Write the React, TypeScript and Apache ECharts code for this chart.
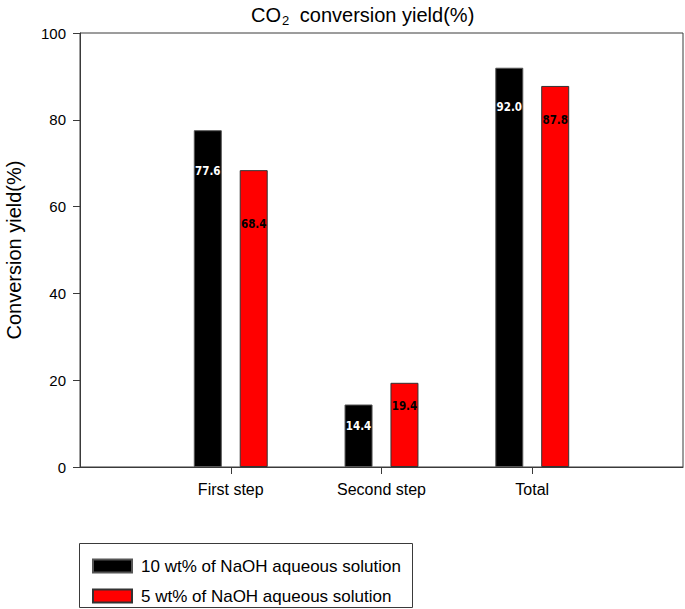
import React, { useEffect, useRef } from "react";
import * as echarts from "echarts";

const categories = ["", "First step", "Second step", "Total", ""];
const seriesNames = ["10 wt% of NaOH aqueous solution", "5 wt% of NaOH aqueous solution"];
const naoh10 = [null, 77.6, 14.4, 92.0, null];
const naoh5 = [null, 68.4, 19.4, 87.8, null];
const yTicks = [0, 20, 40, 60, 80, 100];

// label drop below bar top (styling only)
const drop10 = [0, 35, 15, 33, 0];
const drop5 = [0, 48, 17, 28, 0];

const FONT = "'Liberation Sans', Arial, sans-serif";
const LABEL_FONT = "'DejaVu Sans Condensed', 'DejaVu Sans', Verdana, sans-serif";
const AXIS = "#3a3a3a";

export default function App() {
  const ref = useRef<HTMLDivElement>(null);
  useEffect(() => {
    if (!ref.current) return;
    const chart = echarts.init(ref.current, null, { renderer: "svg" });
    const mk = (vals: (number | null)[], drops: number[]) =>
      vals.map((v, i) =>
        v === null
          ? "-"
          : {
              value: v,
              label: { distance: drops[i] },
            }
      );
    chart.setOption({
      animation: false,
      backgroundColor: "#fff",
      textStyle: { fontFamily: FONT },
      title: {
        text: "CO{sub|2} conversion yield(%)",
        left: 246,
        top: -2,
        textStyle: {
          fontFamily: FONT,
          fontSize: 20,
          fontWeight: "normal",
          color: "#000",
          rich: {
            sub: { fontSize: 13, fontFamily: FONT, color: "#000", padding: [11, 5, 0, 1] },
          },
        },
      },
      grid: {
        left: 80,
        right: 2,
        top: 33,
        bottom: 142,
        containLabel: false,
        outerBoundsMode: "none",
        show: true,
        borderColor: AXIS,
        borderWidth: 1,
        backgroundColor: "transparent",
      },
      legend: {
        orient: "vertical",
        left: 92,
        top: 556,
        height: 60,
        padding: 0,
        itemWidth: 39,
        itemHeight: 13,
        itemGap: 10,
        icon: "rect",
        data: seriesNames,
        textStyle: {
          fontSize: 17,
          lineHeight: 20,
          color: "#000",
          fontFamily: FONT,
          padding: [0, 0, 0, 4],
        },
      },
      graphic: [
        {
          type: "rect",
          shape: { x: 79.5, y: 543.5, width: 333, height: 64 },
          style: { fill: "none", stroke: AXIS, lineWidth: 1 },
          z: 0,
        },
      ],
      xAxis: {
        type: "category",
        data: categories,
        boundaryGap: false,
        axisLine: { lineStyle: { color: AXIS, width: 1 } },
        axisTick: {
          length: 7,
          lineStyle: { color: AXIS },
          interval: (i: number) => i > 0 && i < categories.length - 1,
        },
        axisLabel: {
          interval: 0,
          fontSize: 16,
          color: "#000",
          fontFamily: FONT,
          margin: 14,
        },
        splitLine: { show: false },
      },
      yAxis: {
        type: "value",
        min: yTicks[0],
        max: yTicks[yTicks.length - 1],
        interval: 20,
        name: "Conversion yield(%)",
        nameLocation: "middle",
        nameGap: 56,
        nameTextStyle: { fontSize: 20, color: "#000", fontFamily: FONT },
        axisLine: { show: true, lineStyle: { color: AXIS, width: 1 } },
        axisTick: { show: true, length: 7, lineStyle: { color: AXIS } },
        axisLabel: { fontSize: 15, color: "#000", fontFamily: FONT, margin: 14 },
        splitLine: { show: false },
      },
      series: [
        {
          name: seriesNames[0],
          type: "bar",
          data: mk(naoh10, drop10),
          barWidth: 28,
          barGap: "64%",
          itemStyle: { color: "#000", borderColor: "#555", borderWidth: 1 },
          label: {
            show: true,
            position: "insideTop",
            color: "#fff",
            fontFamily: LABEL_FONT,
            fontWeight: "bold",
            fontSize: 11.5,
            formatter: (p: any) => Number(p.value).toFixed(1),
          },
        },
        {
          name: seriesNames[1],
          type: "bar",
          data: mk(naoh5, drop5),
          barWidth: 28,
          barGap: "64%",
          itemStyle: { color: "#ff0000", borderColor: "#333", borderWidth: 1 },
          label: {
            show: true,
            position: "insideTop",
            color: "#000",
            fontFamily: LABEL_FONT,
            fontWeight: "bold",
            fontSize: 11.5,
            formatter: (p: any) => Number(p.value).toFixed(1),
          },
        },
      ],
    });
    return () => chart.dispose();
  }, []);
  return <div ref={ref} style={{ width: 685, height: 609, position: "absolute", left: 0, top: 0 }} />;
}
